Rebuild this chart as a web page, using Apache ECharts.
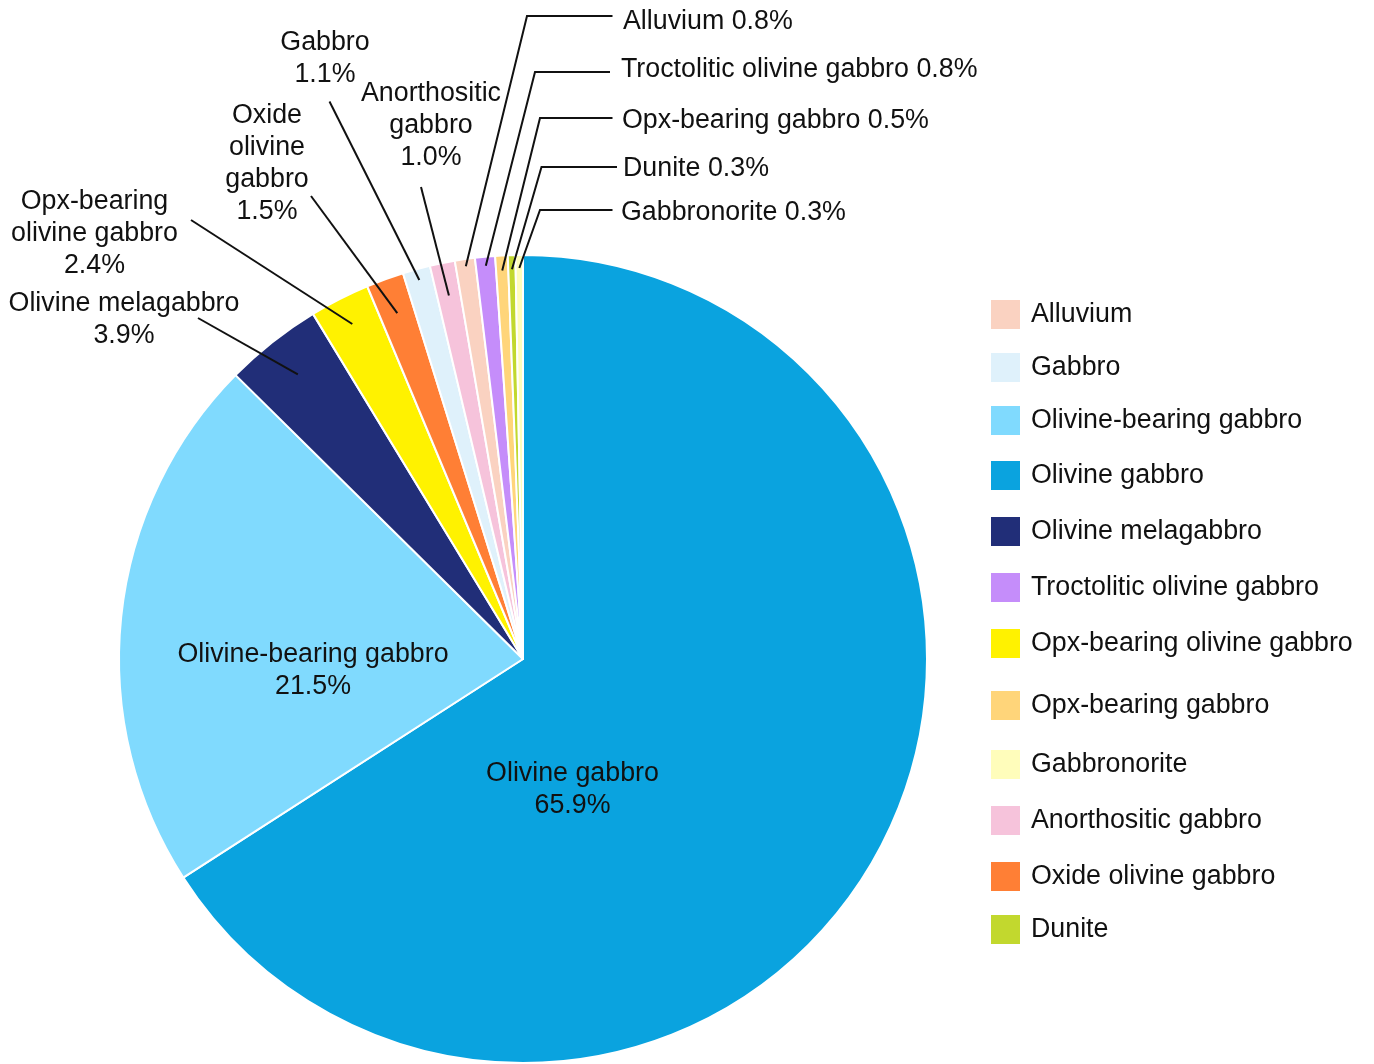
<!DOCTYPE html>
<html><head><meta charset="utf-8">
<script src="https://cdn.jsdelivr.net/npm/echarts@6/dist/echarts.min.js"></script>
<style>html,body{margin:0;padding:0;background:#fff}#chart{width:1374px;height:1064px}</style>
</head><body><div id="chart"></div>
<script>
// ---- data ----
const categories = ['Olivine gabbro','Olivine-bearing gabbro','Olivine melagabbro','Opx-bearing olivine gabbro','Oxide olivine gabbro','Gabbro','Anorthositic gabbro','Alluvium','Troctolitic olivine gabbro','Opx-bearing gabbro','Dunite','Gabbronorite'];
const percentages = [65.9, 21.5, 3.9, 2.4, 1.5, 1.1, 1.0, 0.8, 0.8, 0.5, 0.3, 0.3];
const labelNames = ['Olivine gabbro','Olivine-bearing gabbro','Olivine melagabbro','Opx-bearing\nolivine gabbro','Oxide\nolivine\ngabbro','Gabbro','Anorthositic\ngabbro','Alluvium','Troctolitic olivine gabbro','Opx-bearing gabbro','Dunite','Gabbronorite'];
const legendOrder = ['Alluvium','Gabbro','Olivine-bearing gabbro','Olivine gabbro','Olivine melagabbro','Troctolitic olivine gabbro','Opx-bearing olivine gabbro','Opx-bearing gabbro','Gabbronorite','Anorthositic gabbro','Oxide olivine gabbro','Dunite'];

// ---- styles / layout ----
const colors = ['#0AA3DF','#80DAFE','#212E78','#FFF200','#FF7F35','#DFF1FB','#F6C3DB','#FAD2C1','#C58DFA','#FFD57A','#C2D82E','#FFFDBB'];
const CX = 523, CY = 659, R = 404;
const FONT = 'Liberation Sans, Arial, Helvetica, sans-serif';
const FS = 26.8, LH = 32, DY = 2;
// label placement: text anchor, alignment, leader line start radius, leader line path points
const labelPlace = [
  {x:572.5, y:788, align:'center', inside:true},
  {x:313, y:669, align:'center', inside:true},
  {x:124, y:318, align:'center', r:363, path:[[198,318]]},
  {x:94.5, y:232, align:'center', r:376, path:[[191,220]]},
  {x:267, y:162, align:'center', r:368, path:[[311,196]]},
  {x:325, y:56.5, align:'center', r:393, path:[[329.5,101.5]]},
  {x:431, y:124, align:'center', r:371, path:[[421,187]]},
  {x:623, y:20, align:'left', r:397, path:[[527,16],[612.5,16]]},
  {x:621, y:68, align:'left', r:395, path:[[535,72],[610,72]]},
  {x:622, y:119, align:'left', r:389, path:[[540,118],[612.5,118]]},
  {x:623, y:167, align:'left', r:390, path:[[541.5,167],[617,167]]},
  {x:621, y:211, align:'left', r:391, path:[[540,210],[612.5,210]]}
];
const legendTops = [298, 351, 404, 459, 515, 571, 627, 689, 748, 804, 860, 913];

// mid angle (math degrees) of each slice, from cumulative data (start 90deg, clockwise)
const total = percentages.reduce((a, b) => a + b, 0);
const midAngles = [];
{
  let cum = 0;
  percentages.forEach(v => { midAngles.push(90 - (cum + v / 2) / total * 360); cum += v; });
}

const baseData = categories.map((name, i) => ({ name, value: percentages[i], itemStyle: { color: colors[i] } }));
const labelData = categories.map((name, i) => {
  const item = { name, value: percentages[i] };
  if (labelPlace[i].inside) {
    item.label = { position: 'inside' };
    item.labelLine = { show: false };
  }
  return item;
});

const legends = legendOrder.map((name, k) => ({
  left: 989, top: legendTops[k], orient: 'vertical', padding: 0,
  data: [{ name, itemStyle: { color: colors[categories.indexOf(name)] } }],
  icon: 'rect', itemWidth: 31, itemHeight: 31,
  selectedMode: false,
  textStyle: { fontSize: FS, fontFamily: FONT, color: '#111', padding: [0, 0, 0, 5] }
}));

const chart = echarts.init(document.getElementById('chart'), null, { renderer: 'canvas' });
chart.setOption({
  backgroundColor: '#fff',
  animation: false,
  legend: legends,
  series: [{
    type: 'pie',
    z: 2,
    center: [CX, CY],
    radius: R,
    startAngle: 90,
    clockwise: true,
    silent: true,
    itemStyle: { borderColor: '#fff', borderWidth: 2 },
    label: { show: false },
    labelLine: { show: false },
    emphasis: { disabled: true },
    data: baseData
  }, {
    // transparent overlay carrying labels and leader lines above the slices
    type: 'pie',
    z: 5,
    center: [CX, CY],
    radius: R,
    startAngle: 90,
    clockwise: true,
    silent: true,
    avoidLabelOverlap: false,
    minShowLabelAngle: 0,
    itemStyle: { color: 'rgba(0,0,0,0)', borderWidth: 0 },
    label: {
      show: true,
      position: 'outside',
      fontSize: FS,
      lineHeight: LH,
      fontFamily: FONT,
      color: '#111',
      formatter: p => {
        const i = p.dataIndex;
        const v = percentages[i].toFixed(1) + '%';
        return labelPlace[i].align === 'left' ? labelNames[i] + ' ' + v : labelNames[i] + '\n' + v;
      }
    },
    labelLine: { show: true, showAbove: true, lineStyle: { color: '#111', width: 2 } },
    emphasis: { disabled: true },
    labelLayout: function (p) {
      const lp = labelPlace[p.dataIndex];
      const out = { x: lp.x, y: lp.y + DY, align: lp.align, verticalAlign: 'middle', hideOverlap: false };
      if (!lp.inside) {
        const a = midAngles[p.dataIndex] * Math.PI / 180;
        const start = [CX + lp.r * Math.cos(a), CY - lp.r * Math.sin(a)];
        const pts = [start].concat(lp.path);
        while (pts.length < 3) pts.push(pts[pts.length - 1]);
        out.labelLinePoints = pts;
      }
      return out;
    },
    data: labelData
  }]
});
</script>
</body></html>
